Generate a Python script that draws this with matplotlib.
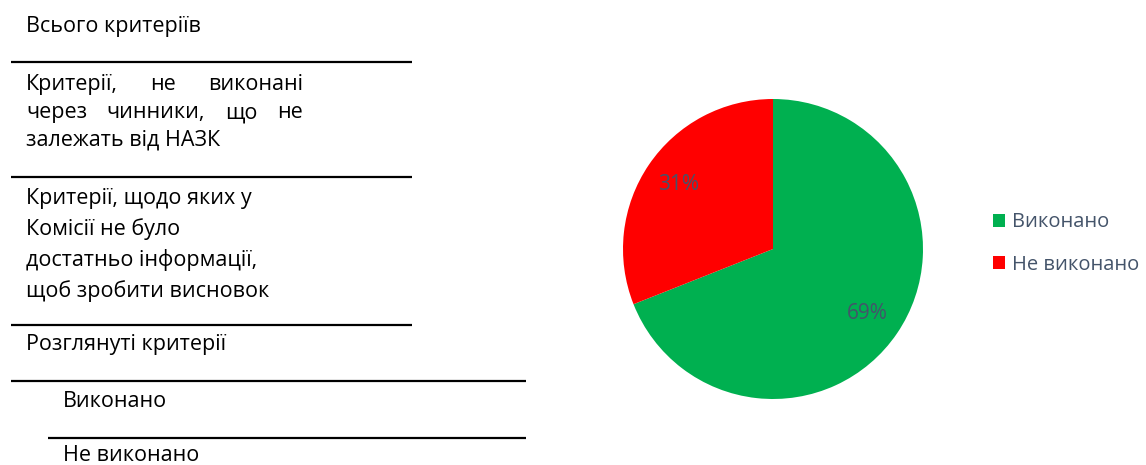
import matplotlib
matplotlib.use("Agg")
import matplotlib.pyplot as plt

plt.rcParams["font.family"] = ["Open Sans", "DejaVu Sans"]

# pie data
labels = ["Виконано", "Не виконано"]
shares = [69, 31]
colors = ["#00B050", "#FF0000"]
text_grey = "#44546A"

# rows of the criteria table on the left
title_row = "Всього критеріїв"
row_external = ["Критерії, не виконані", "через чинники, що не", "залежать від НАЗК"]
row_no_info = ["Критерії, щодо яких у", "Комісії не було",
               "достатньо інформації,", "щоб зробити висновок"]
row_reviewed = "Розглянуті критерії"
row_done = "Виконано"
row_not_done = "Не виконано"

W, H = 1146, 465
fig = plt.figure(figsize=(W / 100, H / 100), dpi=100)

# pixel-space canvas for the table part
bg = fig.add_axes([0, 0, 1, 1])
bg.set_xlim(0, W)
bg.set_ylim(H, 0)
bg.axis("off")

fs = 15.5
off = 7  # baseline offset below the visual middle of a line

def put(s, x, y):
    return bg.text(x, y + off, s, fontsize=fs, color="black", va="baseline", ha="left")

def justify(s, x0, x1, y):
    words = s.split()
    fig.canvas.draw()
    r = fig.canvas.get_renderer()
    items = [put(w, 0, y) for w in words]
    widths = []
    for t in items:
        bb = t.get_window_extent(r)
        widths.append(bb.width)
    gap = (x1 - x0 - sum(widths)) / (len(words) - 1)
    x = x0
    for t, w in zip(items, widths):
        t.set_x(x)
        x += w + gap

rules = [(11, 412, 62), (11, 412, 177), (11, 412, 325), (11, 526, 381), (48, 526, 438)]
for xa, xb, y in rules:
    bg.plot([xa, xb], [y, y], color="black", lw=1.6, solid_capstyle="butt")

put(title_row, 26, 25)
justify(row_external[0], 26, 303, 83)
justify(row_external[1], 26, 303, 111)
put(row_external[2], 26, 138)
for i, s in enumerate(row_no_info):
    put(s, 26, 197 + 31 * i)
put(row_reviewed, 26, 343)
put(row_done, 63, 400)
put(row_not_done, 63, 454)

# pie chart
cx, cy, rad = 773, 249, 150
ax = fig.add_axes([(cx - rad) / W, (H - cy - rad) / H, 2 * rad / W, 2 * rad / H])
wedges, _, autotexts = ax.pie(
    shares, colors=colors, startangle=90, counterclock=False,
    autopct=lambda p: f"{p:.0f}%", pctdistance=0.76,
    wedgeprops=dict(linewidth=0),
    textprops=dict(color=text_grey, fontsize=15),
)
ax.set_xlim(-1, 1)
ax.set_ylim(-1, 1)

fig.legend(wedges, labels, loc="center left",
           bbox_to_anchor=(993 / W, 1 - 243.5 / H), frameon=False,
           handlelength=0.6, handleheight=0.6, handletextpad=0.35,
           labelspacing=1.1, fontsize=14.5, labelcolor=text_grey,
           borderaxespad=0, borderpad=0)

fig.savefig("out.png", dpi=100)
